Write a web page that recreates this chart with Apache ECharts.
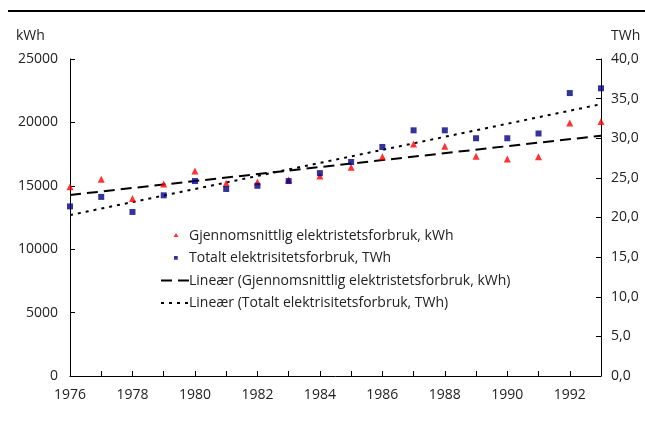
<!DOCTYPE html>
<html><head><meta charset="utf-8">
<script src="https://cdn.jsdelivr.net/npm/echarts@6/dist/echarts.min.js"></script>
<style>html,body{margin:0;padding:0;background:#fff}#c{width:645px;height:421px}</style>
</head><body><div id="c"></div>
<script>
const years = [1976,1977,1978,1979,1980,1981,1982,1983,1984,1985,1986,1987,1988,1989,1990,1991,1992,1993];
const avgKWh = [14930,15510,13990,15140,16170,15200,15300,15460,15770,16460,17300,18300,18110,17330,17110,17300,19950,20080];
const totalTWh = [21.4,22.6,20.7,22.8,24.6,23.6,24.0,24.6,25.6,27.0,28.9,31.0,31.0,30.0,30.0,30.6,35.7,36.3];
const trendKWhYears = [1976,1993];
const trendKWh = [14275,18950];
const trendTWhYears = [1976,1993];
const trendTWh = [20.3,34.3];
const names = ['Gjennomsnittlig elektristetsforbruk, kWh','Totalt elektrisitetsforbruk, TWh','Lineær (Gjennomsnittlig elektristetsforbruk, kWh)','Lineær (Totalt elektrisitetsforbruk, TWh)'];

const font = 'Open Sans';
const txt = '#222';
const corners = 'M0,0L0.05,0L0,0.05Z M40,40L39.95,40L40,39.95Z ';
const chart = echarts.init(document.getElementById('c'));
chart.setOption({
  animation:false,
  textStyle:{fontFamily:font},
  graphic:[
    {type:'line',shape:{x1:8,y1:11,x2:645,y2:11},style:{stroke:'#000',lineWidth:2}},
    {type:'text',left:16,top:29,style:{text:'kWh',font:'14px '+font,fill:txt}},
    {type:'text',left:611,top:29,style:{text:'TWh',font:'14px '+font,fill:txt}}
  ],
  grid:{left:70,right:44,top:59,bottom:45},
  legend:{
    orient:'vertical',left:155,top:221,itemGap:2.3,itemWidth:30,itemHeight:20,
    textStyle:{fontFamily:font,fontSize:14,color:txt,lineHeight:20,padding:[0,0,0,-7]},
    data:[
      {name:names[0],icon:'path://'+corners+'M15,22L20,14L25,22Z'},
      {name:names[1],icon:'path://'+corners+'M16,15.5L23.5,15.5L23.5,23L16,23Z'},
      {name:names[2],itemStyle:{opacity:0}},
      {name:names[3],itemStyle:{opacity:0}}
    ]
  },
  xAxis:{type:'value',min:1976,max:1993,interval:1,
    axisLine:{lineStyle:{color:'#000',width:1}},
    axisTick:{inside:true,length:5,lineStyle:{color:'#000'}},
    splitLine:{show:false},
    axisLabel:{color:txt,fontSize:14,margin:12,fontFamily:font,formatter:v=>(v%2===0&&v<1993)?String(v):''}
  },
  yAxis:[
    {type:'value',min:0,max:25000,interval:5000,
      axisLine:{show:true,lineStyle:{color:'#000'}},
      axisTick:{show:true,inside:true,length:5,lineStyle:{color:'#000'}},
      splitLine:{show:false},
      axisLabel:{color:txt,fontSize:14,margin:12,fontFamily:font,formatter:v=>String(v)}},
    {type:'value',min:0,max:40,interval:5,position:'right',
      axisLine:{show:true,lineStyle:{color:'#000'}},
      axisTick:{show:true,inside:true,length:5,lineStyle:{color:'#000'}},
      splitLine:{show:false},
      axisLabel:{color:txt,fontSize:14,margin:10,fontFamily:font,formatter:v=>v.toFixed(1).replace('.',',')}}
  ],
  series:[
    {name:names[0],type:'scatter',yAxisIndex:0,symbol:'triangle',symbolSize:7,itemStyle:{color:'#ff0000'},
      data:years.map((y,i)=>[y,avgKWh[i]]),z:3},
    {name:names[1],type:'scatter',yAxisIndex:1,symbol:'rect',symbolSize:6,itemStyle:{color:'#000080'},
      data:years.map((y,i)=>[y,totalTWh[i]]),z:3},
    {name:names[2],type:'line',yAxisIndex:0,symbol:'none',lineStyle:{color:'#000',width:2,type:[11,6]},itemStyle:{color:'#000'},
      data:trendKWhYears.map((y,i)=>[y,trendKWh[i]]),z:2},
    {name:names[3],type:'line',yAxisIndex:1,symbol:'none',lineStyle:{color:'#000',width:2,type:[3,5]},itemStyle:{color:'#000'},
      data:trendTWhYears.map((y,i)=>[y,trendTWh[i]]),z:2}
  ]
});
</script></body></html>
